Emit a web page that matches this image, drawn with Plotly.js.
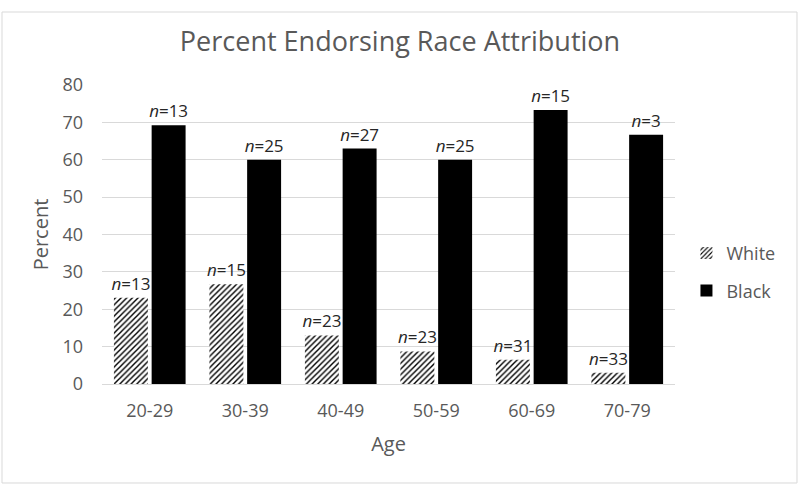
<!DOCTYPE html>
<html>
<head>
<meta charset="utf-8">
<script src="https://cdn.plot.ly/plotly-3.0.1.min.js"></script>
<style>html,body{margin:0;padding:0;background:#fff;}#chart{width:800px;height:485px;}</style>
</head>
<body>
<div id="chart"></div>
<script>
const ageGroups = ["20-29", "30-39", "40-49", "50-59", "60-69", "70-79"];
const whitePercent = [23.1, 26.7, 13.0, 8.7, 6.5, 3.0];
const blackPercent = [69.2, 60.0, 63.0, 60.0, 73.3, 66.7];
const whiteN = [13, 15, 23, 23, 31, 33];
const blackN = [13, 25, 27, 25, 15, 3];
const yTicks = [0, 10, 20, 30, 40, 50, 60, 70, 80];

const FONT = "'Open Sans', 'Noto Sans', sans-serif";
const GRAY = "#595959";

const traces = [
  {
    type: "bar", name: "White", x: ageGroups, y: whitePercent,
    customdata: whiteN,
    texttemplate: "<i>n</i>=%{customdata}", textposition: "outside",
    constraintext: "none", cliponaxis: false,
    textfont: {family: FONT, size: 17, color: "#262626"},
    marker: {color: "#ffffff", line: {width: 0},
      pattern: {shape: "/", fgcolor: "#000000", bgcolor: "#ffffff", size: 4, solidity: 0.35}},
    legendgroup: "w", hoverinfo: "skip"
  },
  {
    type: "bar", name: "Black", x: ageGroups, y: blackPercent,
    customdata: blackN,
    texttemplate: "<i>n</i>=%{customdata}", textposition: "outside",
    constraintext: "none", cliponaxis: false,
    textfont: {family: FONT, size: 17, color: "#262626"},
    marker: {color: "#000000", line: {width: 0}},
    legendgroup: "b", hoverinfo: "skip"
  }
];

const layout = {
  width: 800, height: 485,
  margin: {l: 102, r: 125, t: 85, b: 101},
  paper_bgcolor: "#ffffff", plot_bgcolor: "#ffffff",
  font: {family: FONT, color: GRAY},
  title: {text: "Percent Endorsing Race Attribution", font: {family: FONT, size: 27, color: GRAY},
    x: 0.5, xanchor: "center", y: 0.915, yanchor: "middle"},
  barmode: "group", bargap: 0.21, bargroupgap: 0.1,
  showlegend: true,
  legend: {x: 1.02, y: 0.375, xanchor: "left", yanchor: "middle",
    font: {family: FONT, size: 18, color: GRAY}, tracegroupgap: 11, traceorder: "grouped",
    itemwidth: 30},
  xaxis: {
    title: {text: "Age", font: {family: FONT, size: 20, color: GRAY}, standoff: 16},
    tickfont: {family: FONT, size: 18, color: GRAY},
    showline: true, linecolor: "#d9d9d9", linewidth: 1, ticks: "", showgrid: false,
    ticklabelstandoff: 10
  },
  yaxis: {
    title: {text: "Percent", font: {family: FONT, size: 20, color: GRAY}, standoff: 8},
    range: [0, 80], tickvals: yTicks, ticktext: yTicks.map(String),
    tickfont: {family: FONT, size: 18, color: GRAY},
    showgrid: true, gridcolor: "#d9d9d9", gridwidth: 1, zeroline: false,
    showline: false, ticks: "", ticklabelstandoff: 18
  },
  shapes: [
    {type: "rect", xref: "paper", yref: "paper", x0: -0.1745, x1: 1.2129, y0: -0.3311, y1: 1.2441,
      line: {color: "#d9d9d9", width: 1}, fillcolor: "rgba(0,0,0,0)", layer: "below"}
  ]
};

Plotly.newPlot("chart", traces, layout, {displayModeBar: false, staticPlot: true});
</script>
</body>
</html>
